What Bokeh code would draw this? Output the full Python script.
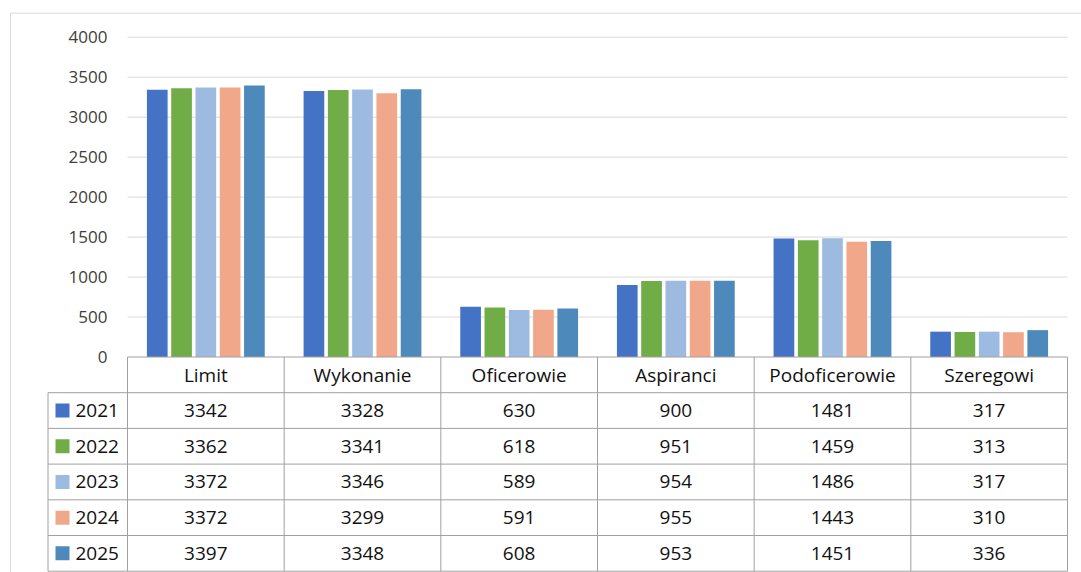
from bokeh.plotting import figure
from bokeh.models import Range1d, LinearAxis, FixedTicker, ColumnDataSource
from bokeh.embed import file_html
from bokeh.resources import INLINE
from bokeh.core.properties import value

# ---------------- data ----------------
categories = ["Limit", "Wykonanie", "Oficerowie", "Aspiranci", "Podoficerowie", "Szeregowi"]
years = ["2021", "2022", "2023", "2024", "2025"]
v2021 = [3342, 3328, 630, 900, 1481, 317]
v2022 = [3362, 3341, 618, 951, 1459, 313]
v2023 = [3372, 3346, 589, 954, 1486, 317]
v2024 = [3372, 3299, 591, 955, 1443, 310]
v2025 = [3397, 3348, 608, 953, 1451, 336]
series = [v2021, v2022, v2023, v2024, v2025]
colors = ["#4472C4", "#70AD47", "#9DBBE1", "#F1A88A", "#4E89BC"]
y_ticks = [0, 500, 1000, 1500, 2000, 2500, 3000, 3500, 4000]

# ---------------- layout (page pixels) ----------------
W, H = 1081, 572
PAGE = 0
PLOT_L, PLOT_R = 127, 1067
CAT_W = (PLOT_R - PLOT_L) / len(categories)
Y0_PX, YTOP_PX = 356.5, 36.7
PPU = (Y0_PX - YTOP_PX) / y_ticks[-1]
ROW_H = 35.7
LEG_L = 47.5
FONT = "Open Sans"


def xu(px):
    return (px - PLOT_L) / CAT_W


def yu(px):
    return (Y0_PX - px) / PPU


def ru(px):
    return (px - Y0_PX) / ROW_H


p = figure(width=W, height=H,
           x_range=Range1d(xu(PAGE), xu(PAGE + W)),
           y_range=Range1d(yu(PAGE + H), yu(PAGE)),
           output_backend="svg", toolbar_location=None,
           x_axis_location=None, y_axis_location=None,
           min_border=0, outline_line_color=None,
           background_fill_color="white", border_fill_color="white")
p.xgrid.visible = False
p.ygrid.visible = False
p.extra_y_ranges = {"tbl": Range1d(ru(PAGE + H), ru(PAGE))}

# outer chart border (top & left visible)
p.segment(x0=[xu(10), xu(10)], y0=[ru(12.7), ru(12.7)],
          x1=[xu(PAGE + W + 20), xu(10)], y1=[ru(12.7), ru(PAGE + H + 20)],
          line_color="#d9d9d9", line_width=1, y_range_name="tbl")

# gridlines
grid_vals = [t for t in y_ticks if t > 0]
p.segment(x0=[0] * len(grid_vals), x1=[len(categories)] * len(grid_vals),
          y0=grid_vals, y1=grid_vals, line_color="#d9d9d9", line_width=1)

# bars
n = len(years)
step = 0.155
for j, (yr, vals, col) in enumerate(zip(years, series, colors)):
    xs = [i + 0.5 + (j - (n - 1) / 2) * step for i in range(len(categories))]
    src = ColumnDataSource(dict(x=xs, top=vals))
    p.vbar(x="x", top="top", width=0.132, bottom=0, source=src,
           fill_color=col, line_color=None)

# y axis
ax = LinearAxis(fixed_location=0, ticker=FixedTicker(ticks=y_ticks),
                axis_line_color=None, major_tick_line_color=None,
                minor_tick_line_color=None, major_tick_out=0, minor_tick_out=0,
                major_tick_in=0, minor_tick_in=0,
                major_label_standoff=20,
                major_label_text_font=FONT, major_label_text_font_size="17px",
                major_label_text_color="#404040")
p.add_layout(ax, "left")

# ---------------- data table ----------------
ncat = len(categories)
tl = "#a0a0a0"
hy = list(range(0, n + 2))
p.segment(x0=[0] + [xu(LEG_L)] * (n + 1), x1=[ncat] * (n + 2),
          y0=hy, y1=hy, line_color=tl, line_width=1, y_range_name="tbl")
vx = list(range(0, ncat + 1))
p.segment(x0=vx, x1=vx, y0=[0] * len(vx), y1=[n + 1] * len(vx),
          line_color=tl, line_width=1, y_range_name="tbl")
p.segment(x0=[xu(LEG_L)], x1=[xu(LEG_L)], y0=[1], y1=[n + 1],
          line_color=tl, line_width=1, y_range_name="tbl")

# header
p.text(x=[i + 0.5 for i in range(ncat)], y=[0.5] * ncat, text=categories,
       text_align="center", text_baseline="middle", text_font=value(FONT),
       text_font_size="19px", text_color="#111111", y_range_name="tbl")

# values
vxs, vys, vts = [], [], []
for j, vals in enumerate(series):
    for i, v in enumerate(vals):
        vxs.append(i + 0.5)
        vys.append(j + 1.5)
        vts.append(str(v))
p.text(x=vxs, y=vys, text=vts, text_align="center", text_baseline="middle",
       text_font=value(FONT), text_font_size="19px", text_color="#111111",
       y_range_name="tbl")

# legend keys + years
ly = [j + 1.5 for j in range(n)]
p.scatter(x=[xu(62)] * n, y=ly, marker="square", size=14, fill_color=colors,
          line_color=None, y_range_name="tbl")
p.text(x=[xu(75)] * n, y=ly, text=years, text_align="left", text_baseline="middle",
       text_font=value(FONT), text_font_size="19px", text_color="#111111",
       y_range_name="tbl")

open("out.html", "w").write(file_html(p, INLINE))
